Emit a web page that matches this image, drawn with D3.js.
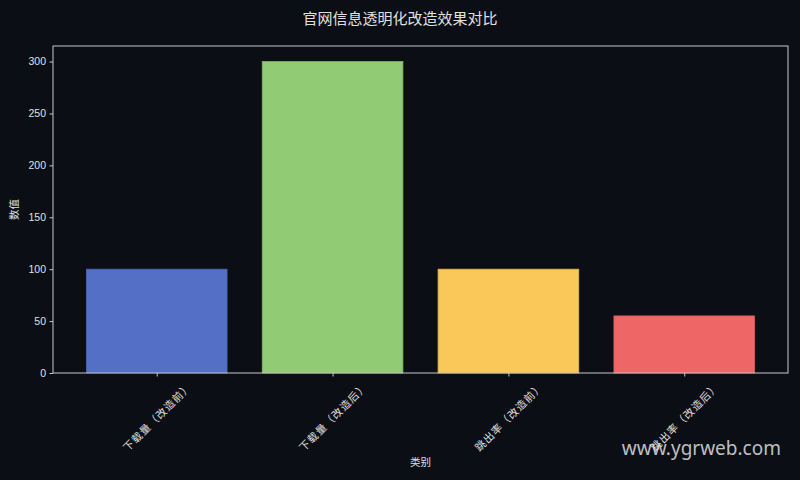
<!DOCTYPE html>
<html lang="zh-CN">
<head>
<meta charset="utf-8">
<script src="https://cdn.jsdelivr.net/npm/d3@7"></script>
<style>
  body { margin: 0; background: #0b0e14; }
  svg { display: block; }
  text { font-family: "Noto Sans CJK SC", sans-serif; fill: #e0e0e0; }
  .xlabel { font-kerning: none; font-feature-settings: "fwid" 1, "kern" 0, "halt" 0, "palt" 0; }
</style>
</head>
<body>
<div id="chart"></div>
<script>
// chart data
const categories = ['下载量（改造前）', '下载量（改造后）', '跳出率（改造前）', '跳出率（改造后）'];
const values = [100, 300, 100, 55];
const colors = ['#5470c6', '#91cc75', '#fac858', '#ee6666'];
const yTicks = [0, 50, 100, 150, 200, 250, 300];

const width = 800, height = 480;
const margin = {top: 46, right: 12, bottom: 107, left: 53};
const plotW = width - margin.left - margin.right;
const plotH = height - margin.top - margin.bottom;

const svg = d3.select('#chart')
    .append('svg')
    .attr('width', width)
    .attr('height', height);

svg.append('rect')
    .attr('width', width)
    .attr('height', height)
    .attr('fill', '#0b0e14');

const g = svg.append('g')
    .attr('transform', `translate(${margin.left},${margin.top})`);

// bars are 0.8 wide, axis padded like matplotlib
const x = d3.scaleLinear()
    .domain([-0.59, categories.length - 1 + 0.59])
    .range([0, plotW]);

const y = d3.scaleLinear()
    .domain([0, 315])
    .range([plotH, 0]);

g.selectAll('.bar')
    .data(values)
    .enter().append('rect')
    .attr('class', 'bar')
    .attr('x', (d, i) => x(i - 0.4))
    .attr('y', d => y(d))
    .attr('width', x(0.4) - x(-0.4))
    .attr('height', d => plotH - y(d))
    .attr('fill', (d, i) => colors[i])
    .attr('stroke', (d, i) => d3.color(colors[i]).darker(0.3))
    .attr('stroke-width', 0.8);

// frame
g.append('rect')
    .attr('width', plotW)
    .attr('height', plotH)
    .attr('fill', 'none')
    .attr('stroke', '#c8c8c8')
    .attr('stroke-width', 1);

// y axis
const yAxis = g.append('g')
    .call(d3.axisLeft(y).tickValues(yTicks).tickSize(3.5).tickPadding(3.5));
yAxis.select('.domain').remove();
yAxis.selectAll('line').attr('stroke', '#c8c8c8');
yAxis.selectAll('text').attr('font-size', 10.5).attr('fill', '#e0e0e0')
    .style('font-family', '"Liberation Sans", Arial, sans-serif');

// x axis ticks
const xAxis = g.append('g')
    .attr('transform', `translate(0,${plotH})`)
    .call(d3.axisBottom(x).tickValues(d3.range(categories.length)).tickSize(3.5).tickFormat(''));
xAxis.select('.domain').remove();
xAxis.selectAll('line').attr('stroke', '#c8c8c8');

// rotated tick labels, box centred under tick; full-width cells like matplotlib
const fs = 10.5;
g.selectAll('.xlabel')
    .data(categories)
    .enter().append('text')
    .attr('class', 'xlabel')
    .attr('font-size', fs)
    .attr('text-anchor', 'middle')
    .attr('dominant-baseline', 'central')
    .attr('textLength', d => d.length * fs * 1.08)
    .attr('lengthAdjust', 'spacing')
    .text(d => d)
    .attr('transform', function (d, i) {
        const L = d.length * fs * 1.08;
        const cy = plotH + 8 + (L + fs) / (2 * Math.SQRT2);
        return `translate(${x(i)},${cy}) rotate(-45)`;
    });

// title and axis labels
svg.append('text')
    .attr('x', width / 2)
    .attr('y', 24)
    .attr('text-anchor', 'middle')
    .attr('font-size', 15)
    .text('官网信息透明化改造效果对比');

svg.append('text')
    .attr('transform', `translate(18,${margin.top + plotH / 2}) rotate(-90)`)
    .attr('text-anchor', 'middle')
    .attr('font-size', 10.5)
    .text('数值');

svg.append('text')
    .attr('x', margin.left + plotW / 2)
    .attr('y', 466)
    .attr('text-anchor', 'middle')
    .attr('font-size', 10.5)
    .text('类别');

// watermark
svg.append('text')
    .attr('x', 781)
    .attr('y', 455)
    .attr('text-anchor', 'end')
    .attr('font-size', 19)
    .attr('fill', '#ffffff')
    .attr('fill-opacity', 0.85)
    .style('font-family', '"Noto Sans", "Open Sans", sans-serif')
    .text('www.ygrweb.com');
</script>
</body>
</html>
